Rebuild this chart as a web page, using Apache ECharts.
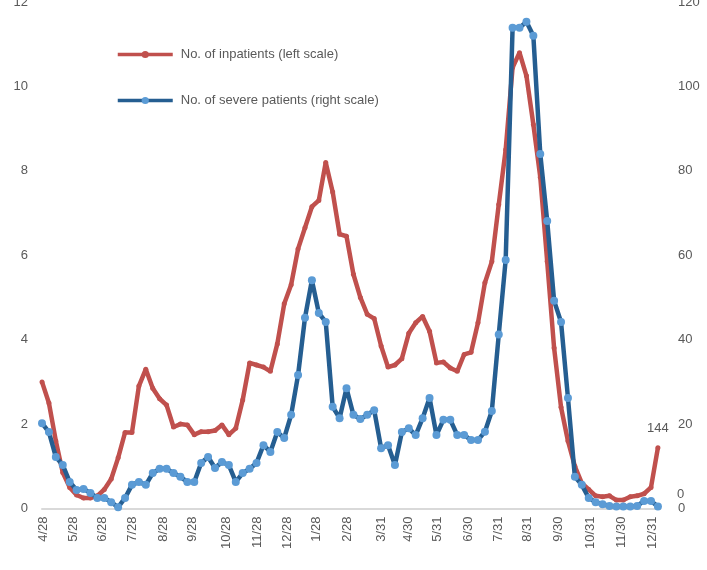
<!DOCTYPE html>
<html>
<head>
<meta charset="utf-8">
<script src="https://cdn.jsdelivr.net/npm/echarts@6.0.0/dist/echarts.min.js"></script>
<style>
  html, body { margin: 0; padding: 0; background: #fff; }
  #chart { width: 707px; height: 570px; }
</style>
</head>
<body>
<div id="chart"></div>
<script>
// weekly observations, x = week number from 4/28
const inpatients = [
  3.0, 2.5, 1.6, 0.85, 0.5, 0.32, 0.25, 0.25, 0.3, 0.45,
  0.7, 1.2, 1.8, 1.8, 2.9, 3.3, 2.85, 2.6, 2.45, 1.93,
  2.0, 1.98, 1.75, 1.82, 1.82, 1.85, 1.98, 1.75, 1.9, 2.57,
  3.45, 3.4, 3.35, 3.25, 3.9, 4.85, 5.3, 6.15, 6.65, 7.15,
  7.3, 8.2, 7.5, 6.5, 6.45, 5.55, 5.0, 4.6, 4.5, 3.85,
  3.35, 3.4, 3.55, 4.15, 4.4, 4.55, 4.2, 3.45, 3.47, 3.33,
  3.25, 3.65, 3.7, 4.4, 5.35, 5.85, 7.2, 8.5, 10.45, 10.8,
  10.25, 9.1, 7.85, 5.85, 3.8, 2.4, 1.6, 1.0, 0.6, 0.45,
  0.3, 0.28, 0.3, 0.2, 0.2, 0.28, 0.3, 0.35, 0.5, 1.44
];

const severe = [
  20.2, 18.1, 12.2, 10.3, 6.3, 4.4, 4.6, 3.7, 2.5, 2.5,
  1.5, 0.3, 2.5, 5.6, 6.3, 5.6, 8.4, 9.4, 9.4, 8.4,
  7.5, 6.3, 6.3, 10.8, 12.2, 9.6, 11.0, 10.3, 6.3, 8.4,
  9.4, 10.8, 15.0, 13.4, 18.1, 16.7, 22.2, 31.6, 45.2, 54.1,
  46.3, 44.2, 24.1, 21.4, 28.5, 22.2, 21.2, 22.2, 23.3, 14.3,
  15.0, 10.3, 18.1, 19.0, 17.4, 21.4, 26.2, 17.4, 21.0, 21.0,
  17.4, 17.4, 16.2, 16.2, 18.2, 23.1, 41.2, 58.9, 113.9, 113.9,
  115.3, 112.0, 84.0, 68.1, 49.2, 44.2, 26.2, 7.5, 5.6, 2.5,
  1.5, 1.0, 0.6, 0.5, 0.5, 0.5, 0.6, 1.8, 1.8, 0.5
];

// month labels and where they fall (in weeks)
const tickLabels = ['4/28', '5/28', '6/28', '7/28', '8/28', '9/28', '10/28', '11/28', '12/28', '1/28',
  '2/28', '3/31', '4/30', '5/31', '6/30', '7/31', '8/31', '9/30', '10/31', '11/30', '12/31'];
const tickWeeks = [0.2, 4.5, 8.8, 13.0, 17.5, 21.8, 26.6, 31.1, 35.5, 39.6,
  44.1, 49.0, 52.9, 57.2, 61.6, 65.9, 70.2, 74.6, 79.3, 83.7, 88.2];

const seriesNames = ['No. of inpatients (left scale)', 'No. of severe patients (right scale)'];
const endLabels = ['144', '0'];

const FONT = 'Liberation Sans, Arial, sans-serif';
const GREY = '#595959';

const toPoints = arr => arr.map((v, i) => [i, v]);
const lastIdx = inpatients.length - 1;

const chart = echarts.init(document.getElementById('chart'));

chart.setOption({
  animation: false,
  textStyle: { fontFamily: FONT },
  grid: { left: 42, right: 47, top: 2, bottom: 61.5, outerBoundsMode: 'none' },
  legend: {
    orient: 'vertical',
    left: 111,
    top: 43,
    itemWidth: 55,
    itemHeight: 9,
    itemGap: 33,
    lineStyle: { width: 3.5 },
    textStyle: { fontFamily: FONT, fontSize: 13, color: GREY, padding: [0, 0, 0, 3] },
    data: seriesNames
  },
  xAxis: {
    type: 'value',
    min: 0,
    max: 89.3,
    axisLine: { show: true, lineStyle: { color: '#D9D9D9', width: 2 } },
    axisTick: { show: false },
    splitLine: { show: false },
    axisLabel: {
      customValues: tickWeeks,
      rotate: 90,
      margin: 8,
      fontSize: 13,
      color: GREY,
      fontFamily: FONT,
      formatter: v => {
        const k = tickWeeks.findIndex(t => Math.abs(t - v) < 1e-6);
        return k >= 0 ? tickLabels[k] : '';
      }
    }
  },
  yAxis: [
    {
      type: 'value',
      min: 0, max: 12, interval: 2,
      axisLine: { show: false },
      axisTick: { show: false },
      splitLine: { show: false },
      axisLabel: { fontSize: 13, color: GREY, fontFamily: FONT, margin: 14 }
    },
    {
      type: 'value',
      min: 0, max: 120, interval: 20,
      axisLine: { show: false },
      axisTick: { show: false },
      splitLine: { show: false },
      axisLabel: { fontSize: 13, color: GREY, fontFamily: FONT, margin: 18 }
    }
  ],
  series: [
    {
      name: seriesNames[0],
      type: 'line',
      yAxisIndex: 0,
      data: toPoints(inpatients),
      symbol: 'circle',
      symbolSize: 5,
      showAllSymbol: true,
      itemStyle: { color: '#C0504D' },
      lineStyle: { color: '#C0504D', width: 4.5 },
      label: {
        show: true,
        position: 'top',
        distance: 10,
        fontSize: 13,
        color: GREY,
        fontFamily: FONT,
        formatter: p => (p.dataIndex === lastIdx ? endLabels[0] : '')
      },
      z: 2
    },
    {
      name: seriesNames[1],
      type: 'line',
      yAxisIndex: 1,
      data: toPoints(severe),
      symbol: 'circle',
      symbolSize: 8,
      showAllSymbol: true,
      itemStyle: { color: '#5B9BD5' },
      lineStyle: { color: '#255E91', width: 4.5 },
      label: {
        show: true,
        position: 'right',
        offset: [10, -12],
        fontSize: 13,
        color: GREY,
        fontFamily: FONT,
        formatter: p => (p.dataIndex === lastIdx ? endLabels[1] : '')
      },
      z: 3
    }
  ]
});

window.addEventListener('resize', () => chart.resize());
</script>
</body>
</html>
